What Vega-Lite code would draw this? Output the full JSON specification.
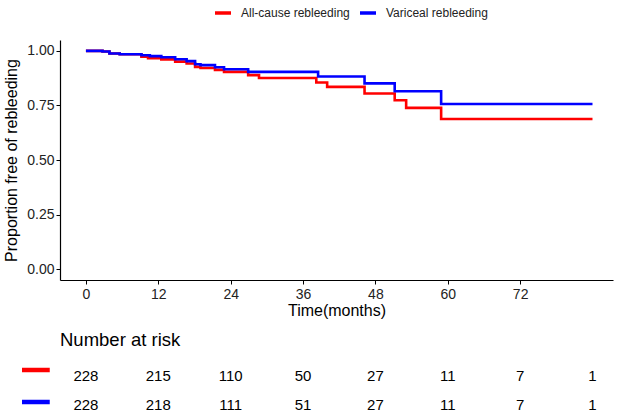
{
  "$schema": "https://vega.github.io/schema/vega-lite/v6.json",
  "width": 553,
  "height": 240,
  "autosize": {"type": "none"},
  "padding": {"left": 60, "top": 40, "right": 5, "bottom": 136},
  "background": "white",
  "config": {
    "view": {"stroke": null},
    "font": "Liberation Sans",
    "axis": {
      "grid": false,
      "domainColor": "black",
      "domainWidth": 1.2,
      "tickColor": "black",
      "tickSize": 4,
      "tickWidth": 1,
      "labelColor": "#222222",
      "labelFontSize": 14,
      "labelFont": "Liberation Sans",
      "titleFont": "Liberation Sans",
      "titleFontSize": 16,
      "titleFontWeight": "normal",
      "titleColor": "black"
    }
  },
  "datasets": {
    "curves": [
      {"group": "All-cause rebleeding", "time": 0, "surv": 1.0},
      {"group": "All-cause rebleeding", "time": 2.75, "surv": 0.997},
      {"group": "All-cause rebleeding", "time": 3.9, "surv": 0.988},
      {"group": "All-cause rebleeding", "time": 5.6, "surv": 0.985},
      {"group": "All-cause rebleeding", "time": 9.2, "surv": 0.973},
      {"group": "All-cause rebleeding", "time": 10.3, "surv": 0.967},
      {"group": "All-cause rebleeding", "time": 12.5, "surv": 0.961},
      {"group": "All-cause rebleeding", "time": 14.8, "surv": 0.951},
      {"group": "All-cause rebleeding", "time": 16.7, "surv": 0.942},
      {"group": "All-cause rebleeding", "time": 18.1, "surv": 0.927},
      {"group": "All-cause rebleeding", "time": 19.0, "surv": 0.922},
      {"group": "All-cause rebleeding", "time": 21.4, "surv": 0.913},
      {"group": "All-cause rebleeding", "time": 22.9, "surv": 0.904},
      {"group": "All-cause rebleeding", "time": 26.9, "surv": 0.889},
      {"group": "All-cause rebleeding", "time": 28.7, "surv": 0.876},
      {"group": "All-cause rebleeding", "time": 38.2, "surv": 0.855},
      {"group": "All-cause rebleeding", "time": 40.0, "surv": 0.835},
      {"group": "All-cause rebleeding", "time": 46.2, "surv": 0.805},
      {"group": "All-cause rebleeding", "time": 51.2, "surv": 0.774},
      {"group": "All-cause rebleeding", "time": 53.1, "surv": 0.739},
      {"group": "All-cause rebleeding", "time": 58.9, "surv": 0.688},
      {"group": "All-cause rebleeding", "time": 84, "surv": 0.688},
      {"group": "Variceal rebleeding", "time": 0, "surv": 1.0},
      {"group": "Variceal rebleeding", "time": 2.75, "surv": 0.997},
      {"group": "Variceal rebleeding", "time": 3.9, "surv": 0.988},
      {"group": "Variceal rebleeding", "time": 5.6, "surv": 0.985},
      {"group": "Variceal rebleeding", "time": 9.2, "surv": 0.98},
      {"group": "Variceal rebleeding", "time": 10.6, "surv": 0.976},
      {"group": "Variceal rebleeding", "time": 12.5, "surv": 0.971},
      {"group": "Variceal rebleeding", "time": 14.8, "surv": 0.962},
      {"group": "Variceal rebleeding", "time": 16.7, "surv": 0.953},
      {"group": "Variceal rebleeding", "time": 18.1, "surv": 0.939},
      {"group": "Variceal rebleeding", "time": 19.0, "surv": 0.935},
      {"group": "Variceal rebleeding", "time": 21.4, "surv": 0.925},
      {"group": "Variceal rebleeding", "time": 22.9, "surv": 0.916},
      {"group": "Variceal rebleeding", "time": 26.9, "surv": 0.904},
      {"group": "Variceal rebleeding", "time": 38.5, "surv": 0.883},
      {"group": "Variceal rebleeding", "time": 46.2, "surv": 0.851},
      {"group": "Variceal rebleeding", "time": 51.2, "surv": 0.815},
      {"group": "Variceal rebleeding", "time": 58.9, "surv": 0.757},
      {"group": "Variceal rebleeding", "time": 84, "surv": 0.757}
    ],
    "risk": [
      {"group": "All-cause rebleeding", "time": 0, "n": 228},
      {"group": "All-cause rebleeding", "time": 12, "n": 215},
      {"group": "All-cause rebleeding", "time": 24, "n": 110},
      {"group": "All-cause rebleeding", "time": 36, "n": 50},
      {"group": "All-cause rebleeding", "time": 48, "n": 27},
      {"group": "All-cause rebleeding", "time": 60, "n": 11},
      {"group": "All-cause rebleeding", "time": 72, "n": 7},
      {"group": "All-cause rebleeding", "time": 84, "n": 1},
      {"group": "Variceal rebleeding", "time": 0, "n": 228},
      {"group": "Variceal rebleeding", "time": 12, "n": 218},
      {"group": "Variceal rebleeding", "time": 24, "n": 111},
      {"group": "Variceal rebleeding", "time": 36, "n": 51},
      {"group": "Variceal rebleeding", "time": 48, "n": 27},
      {"group": "Variceal rebleeding", "time": 60, "n": 11},
      {"group": "Variceal rebleeding", "time": 72, "n": 7},
      {"group": "Variceal rebleeding", "time": 84, "n": 1}
    ],
    "groups": [
      {"group": "All-cause rebleeding"},
      {"group": "Variceal rebleeding"}
    ],
    "tabletitle": [
      {"label": "Number at risk"}
    ]
  },
  "layer": [
    {
      "data": {"name": "curves"},
      "mark": {"type": "line", "interpolate": "step-after", "strokeWidth": 2.6},
      "encoding": {
        "x": {
          "field": "time", "type": "quantitative",
          "scale": {"domain": [-4.3, 87.4], "nice": false, "zero": false},
          "axis": {"values": [0, 12, 24, 36, 48, 60, 72], "title": "Time(months)", "labelPadding": 3, "titlePadding": 1, "labelFlush": false}
        },
        "y": {
          "field": "surv", "type": "quantitative",
          "scale": {"domain": [-0.05, 1.05], "nice": false, "zero": false},
          "axis": {"values": [0, 0.25, 0.5, 0.75, 1], "format": ".2f", "title": "Proportion free of rebleeding", "labelPadding": 2, "titlePadding": 7, "labelFlush": false}
        },
        "color": {
          "field": "group", "type": "nominal",
          "scale": {"domain": ["All-cause rebleeding", "Variceal rebleeding"], "range": ["#FF0000", "#0000FF"]},
          "legend": {
            "title": null,
            "orient": "none",
            "direction": "horizontal",
            "legendX": 153,
            "legendY": -37,
            "padding": 0,
            "symbolType": "stroke",
            "symbolSize": 256,
            "symbolStrokeWidth": 3.5,
            "labelFontSize": 12,
            "labelFont": "Liberation Sans",
            "labelColor": "#222222",
            "labelOffset": 8,
            "columnPadding": 3
          }
        }
      }
    },
    {
      "data": {"name": "risk"},
      "mark": {"type": "text", "fontSize": 15, "align": "center", "baseline": "middle", "color": "black", "font": "Liberation Sans"},
      "encoding": {
        "x": {"field": "time", "type": "quantitative"},
        "y": {
          "field": "group", "type": "nominal",
          "scale": {"type": "point", "domain": ["All-cause rebleeding", "Variceal rebleeding"], "range": [336, 365], "padding": 0},
          "axis": null
        },
        "text": {"field": "n", "type": "quantitative"}
      }
    },
    {
      "data": {"name": "groups"},
      "mark": {"type": "rule", "strokeWidth": 4.5},
      "encoding": {
        "x": {"datum": -10.6, "type": "quantitative"},
        "x2": {"datum": -6.0},
        "y": {
          "field": "group", "type": "nominal",
          "scale": {"type": "point", "domain": ["All-cause rebleeding", "Variceal rebleeding"], "range": [330, 362], "padding": 0},
          "axis": null
        },
        "color": {"field": "group", "type": "nominal", "legend": null}
      }
    },
    {
      "data": {"name": "tabletitle"},
      "mark": {"type": "text", "fontSize": 18.5, "align": "left", "baseline": "middle", "color": "black", "font": "Liberation Sans"},
      "encoding": {
        "x": {"datum": -4.3, "type": "quantitative"},
        "y": {
          "field": "label", "type": "nominal",
          "scale": {"type": "point", "domain": ["Number at risk"], "range": [300, 300], "padding": 0},
          "axis": null
        },
        "text": {"field": "label", "type": "nominal"}
      }
    }
  ],
  "resolve": {"scale": {"y": "independent"}, "axis": {"y": "independent"}}
}
